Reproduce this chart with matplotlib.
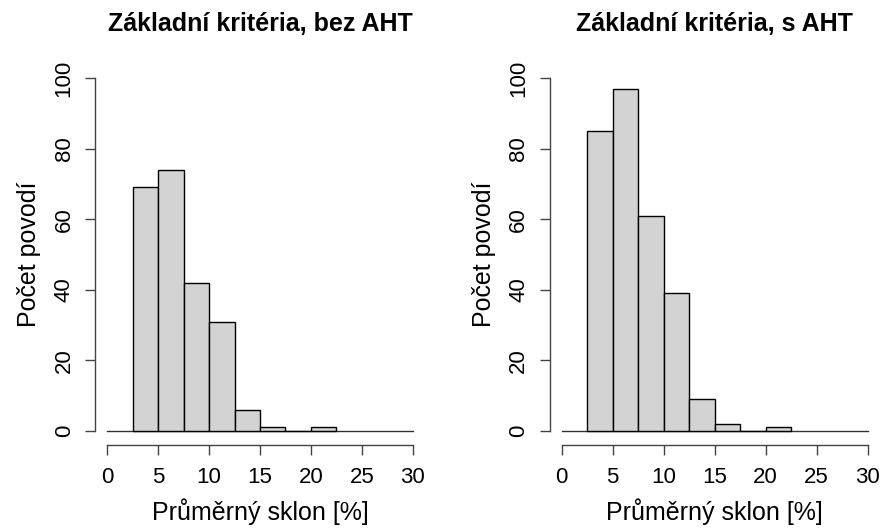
import matplotlib
matplotlib.use("Agg")
import matplotlib.pyplot as plt
import numpy as np

plt.rcParams['font.family'] = ['Liberation Sans', 'DejaVu Sans']

bin_edges = [2.5, 5, 7.5, 10, 12.5, 15, 17.5, 20, 22.5]
counts_bez = [69, 74, 42, 31, 6, 1, 0, 1]
counts_s = [85, 97, 61, 39, 9, 2, 0, 1]
titles = ["Základní kritéria, bez AHT", "Základní kritéria, s AHT"]
xlabel = "Průměrný sklon [%]"
ylabel = "Počet povodí"
xticks = [0, 5, 10, 15, 20, 25, 30]
yticks = [0, 20, 40, 60, 80, 100]

W, H = 882, 528
fig = plt.figure(figsize=(W / 100, H / 100), dpi=100)

lefts_px = [94.8, 549.5]
width_px = 330.4
top_px, bottom_px = 63.9, 445.1

for i, (counts, title) in enumerate(zip([counts_bez, counts_s], titles)):
    ax = fig.add_axes([lefts_px[i] / W, 1 - bottom_px / H, width_px / W, (bottom_px - top_px) / H])
    edges = np.array(bin_edges)
    ax.bar(edges[:-1], counts, width=np.diff(edges), align='edge',
           facecolor='#D3D3D3', edgecolor='black', linewidth=1.0, zorder=2)
    ax.plot([0, 30], [0, 0], color='#333333', linewidth=1.0, zorder=1)
    ax.set_xlim(-1.2, 31.2)
    ax.set_ylim(-4, 104)
    for s in ['top', 'right']:
        ax.spines[s].set_visible(False)
    ax.spines['left'].set_bounds(0, 100)
    ax.spines['bottom'].set_bounds(0, 30)
    for s in ['left', 'bottom']:
        ax.spines[s].set_color('#444444')
        ax.spines[s].set_linewidth(1.0)
    ax.set_xticks(xticks)
    ax.set_yticks(yticks)
    ax.set_yticklabels([str(v) for v in yticks], rotation=90, va='center')
    ax.tick_params(axis='both', direction='out', length=7.5, width=1.0,
                   color='#444444', labelsize=16, labelcolor='black')
    ax.tick_params(axis='x', pad=8)
    ax.tick_params(axis='y', pad=7)
    ax.set_xlabel(xlabel, fontsize=18, labelpad=8)
    ax.set_ylabel(ylabel, fontsize=18, labelpad=9)
    ax.set_title(title, fontsize=18, fontweight='bold', pad=24)

fig.savefig("out.png", dpi=100)
